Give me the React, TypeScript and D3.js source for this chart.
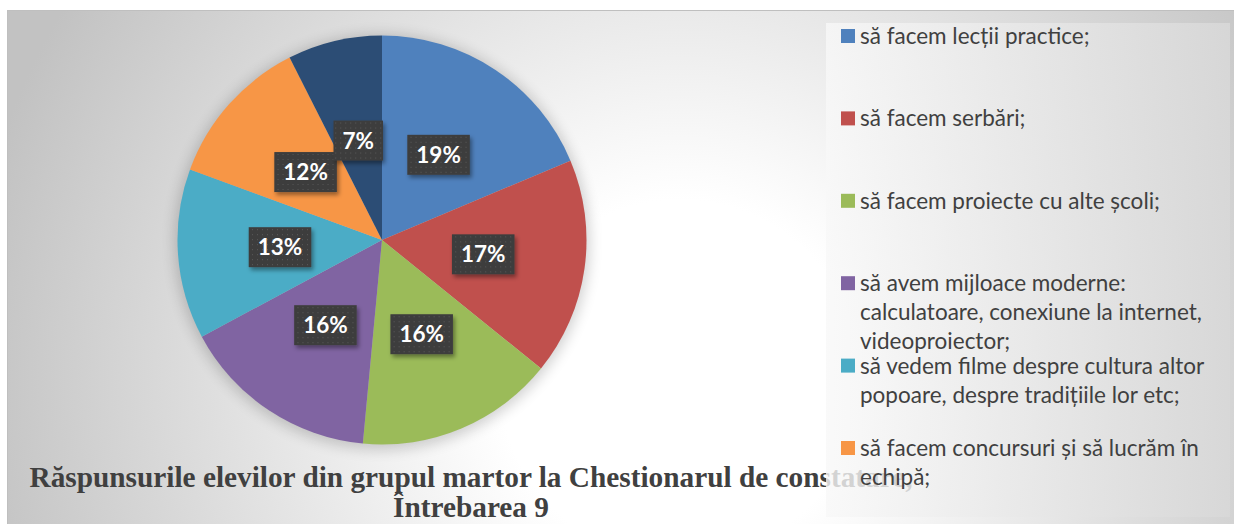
import React, { useEffect, useRef } from "react";
import * as d3 from "d3";

const categories = [
  "să facem lecții practice;",
  "să facem serbări;",
  "să facem proiecte cu alte școli;",
  "să avem mijloace moderne: calculatoare, conexiune la internet, videoproiector;",
  "să vedem filme despre cultura altor popoare, despre tradițiile lor etc;",
  "să facem concursuri și să lucrăm în echipă;",
  "",
];
const counts = [25, 23, 21, 21, 18, 16, 10];
const colors = ["#4F81BD", "#C0504D", "#9BBB59", "#8064A2", "#4BACC6", "#F79646", "#2C4D75"];
const legendLines = [
  ["să facem lecții practice;"],
  ["să facem serbări;"],
  ["să facem proiecte cu alte școli;"],
  ["să avem mijloace moderne:", "calculatoare, conexiune la internet,", "videoproiector;"],
  ["să vedem filme despre cultura altor", "popoare, despre tradițiile lor etc;"],
  ["să facem concursuri și să lucrăm în", "echipă;"],
];
const titleLines = [
  "Răspunsurile elevilor din grupul martor la Chestionarul de constatare,",
  "Întrebarea 9",
];

const W = 1234;
const H = 524;

export default function App() {
  const ref = useRef<SVGSVGElement>(null);
  useEffect(() => {
    const svg = d3.select(ref.current);
    svg.selectAll("*").remove();
    const defs = svg.append("defs");

    const bg = defs.append("radialGradient").attr("id", "bg").attr("gradientUnits", "userSpaceOnUse")
      .attr("cx", 680).attr("cy", 380).attr("r", 720);
    bg.append("stop").attr("offset", 0).attr("stop-color", "#ffffff");
    bg.append("stop").attr("offset", 0.25).attr("stop-color", "#ffffff");
    bg.append("stop").attr("offset", 1).attr("stop-color", "#c2c2c2");

    const lg = defs.append("linearGradient").attr("id", "lg").attr("x1", 0).attr("x2", 1).attr("y1", 0).attr("y2", 0);
    lg.append("stop").attr("offset", 0).attr("stop-color", "#f8f8f8").attr("stop-opacity", 0.8);
    lg.append("stop").attr("offset", 1).attr("stop-color", "#d8d8d8").attr("stop-opacity", 0.9);

    const pat = defs.append("pattern").attr("id", "dots").attr("patternUnits", "userSpaceOnUse")
      .attr("width", 5).attr("height", 5);
    pat.append("rect").attr("width", 5).attr("height", 5).attr("fill", "#3d3d3d");
    pat.append("rect").attr("x", 2).attr("y", 2).attr("width", 1).attr("height", 1).attr("fill", "#595959");

    const sh = defs.append("filter").attr("id", "lblsh").attr("x", "-20%").attr("y", "-20%").attr("width", "150%").attr("height", "160%");
    sh.append("feDropShadow").attr("dx", 2).attr("dy", 3).attr("stdDeviation", 2).attr("flood-color", "#000").attr("flood-opacity", 0.4);

    const halo = defs.append("filter").attr("id", "halo").attr("x", "-20%").attr("y", "-20%").attr("width", "140%").attr("height", "140%");
    halo.append("feGaussianBlur").attr("stdDeviation", 7);

    // background
    svg.append("rect").attr("x", 7).attr("y", 10).attr("width", W - 7).attr("height", H - 10).attr("fill", "url(#bg)");
    svg.append("path").attr("d", `M7.5,${H} V10.5 H${W}`).attr("fill", "none").attr("stroke", "#bfbfbf").attr("stroke-width", 1);

    // pie
    const cx = 382, cy = 240, r = 204.5;
    const g = svg.append("g").attr("transform", `translate(${cx},${cy})`);
    g.append("circle").attr("r", r + 3).attr("cy", 2).attr("fill", "#000").attr("opacity", 0.18).attr("filter", "url(#halo)");
    const total = d3.sum(counts);
    const pie = d3.pie<number>().sort(null).value((d) => d);
    const arcs = pie(counts);
    const arc = d3.arc<d3.PieArcDatum<number>>().innerRadius(0).outerRadius(r);
    g.selectAll("path.slice").data(arcs).enter().append("path").attr("class", "slice")
      .attr("d", arc as any).attr("fill", (_, i) => colors[i]);

    const lblArc = d3.arc<d3.PieArcDatum<number>>().innerRadius(r * 0.5).outerRadius(r * 0.5);
    arcs.forEach((a, i) => {
      const [x, y] = lblArc.centroid(a);
      const lg2 = g.append("g").attr("transform", `translate(${x},${y})`);
      const rect = lg2.append("rect").attr("fill", "url(#dots)").attr("filter", "url(#lblsh)");
      const t = lg2.append("text").attr("text-anchor", "middle").attr("y", 8)
        .attr("font-family", "Lato, sans-serif").attr("font-weight", 700).attr("font-size", 22.5)
        .attr("fill", "#ffffff").text(`${Math.round((counts[i] / total) * 100)}%`);
      const tw = (t.node() as SVGTextElement).getComputedTextLength();
      const bw = tw + 18, bh = 40;
      rect.attr("x", -bw / 2).attr("y", -bh / 2).attr("width", bw).attr("height", bh);
    });

    // title
    const title = svg.append("text").attr("font-family", "'Liberation Serif', 'Times New Roman', serif")
      .attr("font-weight", 700).attr("font-size", 29.3).attr("fill", "#404040");
    title.append("tspan").attr("x", 471).attr("y", 487).attr("text-anchor", "middle").text(titleLines[0]);
    title.append("tspan").attr("x", 471).attr("y", 517).attr("text-anchor", "middle").text(titleLines[1]);

    // legend
    svg.append("rect").attr("x", 826).attr("y", 23).attr("width", 404).attr("height", 494).attr("fill", "url(#lg)");
    legendLines.forEach((lines, i) => {
      const yc = 36 + i * 82.4;
      svg.append("rect").attr("x", 841).attr("y", yc - 7).attr("width", 14).attr("height", 14).attr("fill", colors[i]);
      const t = svg.append("text").attr("font-family", "Lato, sans-serif").attr("font-size", 22.5).attr("fill", "#404040");
      lines.forEach((ln, j) => {
        t.append("tspan").attr("x", 860).attr("y", yc + 8 + j * 29).text(ln);
      });
    });
  }, []);
  return (
    <svg ref={ref} width={W} height={H} style={{ position: "absolute", left: 0, top: 0 }} />
  );
}
